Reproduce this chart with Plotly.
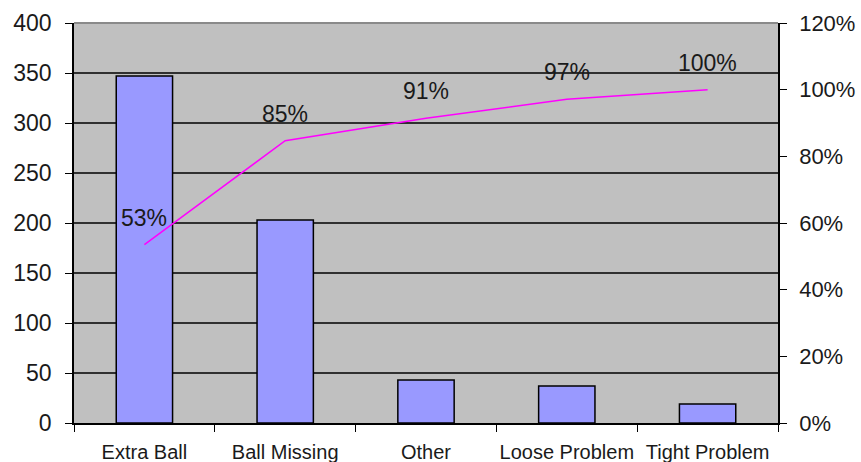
import plotly.graph_objects as go

categories = ["Extra Ball", "Ball Missing", "Other", "Loose Problem", "Tight Problem"]
counts = [347, 203, 43, 37, 19]
cumulative_pct = [0.535, 0.847, 0.914, 0.971, 1.0]
pct_labels = ["53%", "85%", "91%", "97%", "100%"]

FONT = "Arial, Liberation Sans, sans-serif"

fig = go.Figure()
fig.add_trace(go.Bar(
    x=categories, y=counts, width=0.4,
    marker=dict(color="#9999FF", line=dict(color="#000000", width=1.5)),
    showlegend=False, hoverinfo="skip",
))
fig.add_trace(go.Scatter(
    x=categories, y=cumulative_pct, yaxis="y2", mode="lines",
    line=dict(color="#FF00FF", width=1.5),
    showlegend=False, hoverinfo="skip",
))

for c, v, t in zip(categories, cumulative_pct, pct_labels):
    fig.add_annotation(x=c, y=v, xref="x", yref="y2", text=t, showarrow=False,
                       yshift=27, font=dict(family=FONT, size=23, color="#1a1a1a"))

# lighter top border of the plot area, as in the reference
fig.add_shape(type="line", xref="paper", yref="paper", x0=0, x1=1, y0=1, y1=1,
              line=dict(color="#8a8a8a", width=2), layer="above")

fig.update_layout(
    width=861, height=462,
    margin=dict(l=74, r=83, t=23, b=39, autoexpand=False),
    paper_bgcolor="white", plot_bgcolor="#C0C0C0",
    bargap=0.6,
    xaxis=dict(
        type="category", tickson="boundaries", ticks="outside", ticklen=7,
        tickcolor="#000000", showline=True, linecolor="#000000", linewidth=1.5,
        showgrid=False, tickfont=dict(family=FONT, size=20, color="#1a1a1a"),
        tickangle=0, automargin=False, ticklabelstandoff=10,
    ),
    yaxis=dict(
        range=[0, 400], dtick=50, ticks="outside", ticklen=7, tickcolor="#000000",
        showline=True, linecolor="#000000", linewidth=1.5, automargin=False,
        showgrid=True, gridcolor="#303030", gridwidth=1.5, zeroline=False,
        tickfont=dict(family=FONT, size=23, color="#1a1a1a"), ticklabelstandoff=9,
    ),
    yaxis2=dict(
        range=[0, 1.2], dtick=0.2, tickformat=".0%", overlaying="y", side="right",
        ticks="outside", ticklen=7, tickcolor="#000000", automargin=False,
        showline=True, linecolor="#000000", linewidth=1.5,
        showgrid=False, zeroline=False,
        tickfont=dict(family=FONT, size=22, color="#1a1a1a"), ticklabelstandoff=8,
    ),
)

fig.write_html("out.html")
